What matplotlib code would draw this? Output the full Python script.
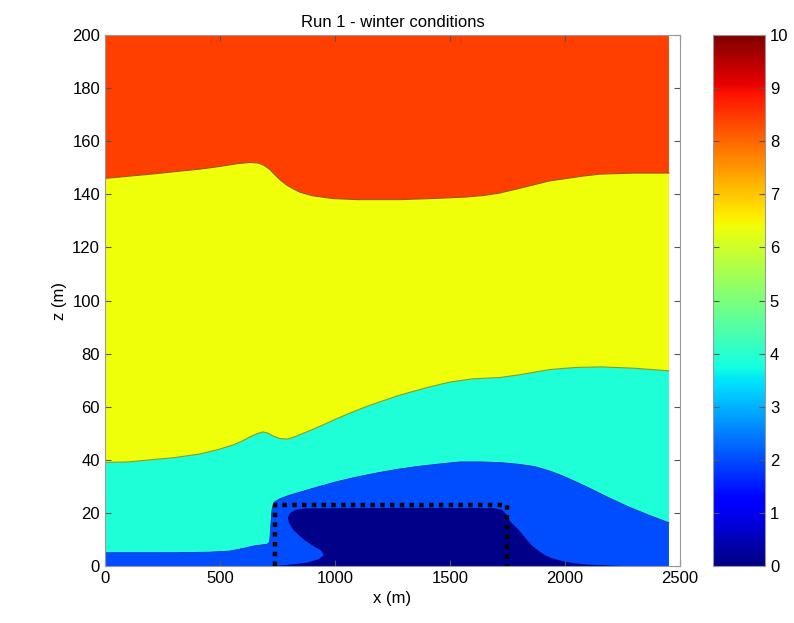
import matplotlib
matplotlib.use("Agg")
import matplotlib.pyplot as plt
import numpy as np
from matplotlib.colors import Normalize
from matplotlib.cm import ScalarMappable

plt.rcParams['font.family'] = ['Liberation Sans', 'DejaVu Sans']

# values of each filled band (colour scale 0-10)
level_dark = 0.1
level_blue = 2.0
level_cyan = 3.9
level_yellow = 6.4
level_red = 8.4

x_end = 2452
z_top = 200

# red / yellow boundary
top_x = [0, 100, 200, 300, 413, 500, 580, 630, 665, 690, 715, 740, 761, 790, 820, 848, 900, 991,
         1100, 1283, 1450, 1574, 1650, 1717, 1790, 1861, 1930, 2009, 2080, 2152, 2300, 2452]
top_z = [146, 146.8, 147.6, 148.5, 149.5, 150.5, 151.6, 152, 151.8, 151, 149.5, 147.3, 145.5, 143.5,
         142, 140.8, 139.5, 138.4, 138, 138, 138.5, 139, 139.6, 140.5, 142, 143.5, 145, 146, 146.9,
         147.6, 148, 148]

# yellow / cyan boundary
mid_x = [0, 100, 200, 300, 413, 490, 557, 600, 630, 660, 687, 710, 730, 760, 796, 840, 891, 950,
         1000, 1065, 1150, 1283, 1400, 1500, 1600, 1717, 1800, 1935, 2050, 2152, 2300, 2452]
mid_z = [39, 39.2, 40, 40.8, 42.2, 43.8, 45.6, 47.2, 48.6, 49.8, 50.5, 50, 49, 48, 47.8, 49.2, 51,
         53.2, 55.2, 57.6, 60.5, 64.4, 67.2, 69.3, 70.5, 71, 72, 74, 74.8, 75, 74.5, 73.5]

# cyan / blue boundary
low_x = [0, 300, 450, 541, 600, 650, 705, 716, 720, 726, 735, 760, 800, 906, 1000, 1088, 1180,
         1270, 1360, 1452, 1543, 1640, 1726, 1800, 1871, 1940, 1999, 2090, 2181, 2270, 2363, 2452]
low_z = [5, 5, 5.2, 5.6, 6.6, 7.6, 8.2, 9, 14, 21, 24, 25.3, 26.6, 29.3, 31.6, 33.4, 35, 36.4,
         37.5, 38.4, 39.2, 39.2, 38.9, 38.3, 37.4, 35.6, 33.6, 30, 26.1, 22.5, 19.2, 16.3]

# dark core outline (closed)
core_x = [740, 815, 880, 930, 951, 940, 906, 870, 840, 815, 800, 795, 805, 830, 869, 1300, 1690,
          1725, 1745, 1760, 1780, 1799, 1818, 1835, 1858, 1881, 1910, 1944, 1990, 2035, 2100,
          2181, 2250, 740]
core_z = [0, 0.6, 1.3, 2.6, 4.1, 5.8, 7.5, 9.6, 11.8, 14, 16.3, 18.3, 20, 21.2, 21.7, 21.9, 21.8,
          21.2, 19.5, 17, 15.2, 13.6, 11.6, 9.8, 7.6, 6, 4.2, 2.9, 1.8, 1.1, 0.5, 0.25, 0, 0]

# dotted box
box_x = [740, 740, 1750, 1750]
box_z = [0, 23, 23, 0]

cmap = plt.get_cmap('jet')
norm = Normalize(0, 10)

fig = plt.figure(figsize=(7.94, 6.23), dpi=100)
ax = fig.add_axes([0.1322, 0.0915, 0.7242, 0.8523])

# band polygons built from the boundaries
ax.fill(top_x + [x_end, 0], top_z + [z_top, z_top], color=cmap(norm(level_red)), lw=0)
ax.fill(top_x + mid_x[::-1], top_z + mid_z[::-1], color=cmap(norm(level_yellow)), lw=0)
ax.fill(mid_x + [x_end, 0], mid_z + [0, 0], color=cmap(norm(level_cyan)), lw=0)
ax.fill(low_x + [x_end, 0], low_z + [0, 0], color=cmap(norm(level_blue)), lw=0)
ax.fill(core_x, core_z, color=cmap(norm(level_dark)), lw=0)

# thin contour outlines
ax.plot(top_x, top_z, color='#a05010', lw=0.8)
ax.plot(mid_x, mid_z, color='#80a020', lw=0.8)
ax.plot(low_x, low_z, color='#1030c0', lw=0.6)
ax.plot(box_x, box_z, color='black', ls=(0, (1, 1.2)), lw=3.2)

ax.set_xlim(0, 2500)
ax.set_ylim(0, 200)
ax.set_xticks([0, 500, 1000, 1500, 2000, 2500])
ax.set_yticks(np.arange(0, 201, 20))
ax.tick_params(direction='in', length=4, top=True, right=True, labelsize=12, color='#555555')
for s in ax.spines.values():
    s.set_color('#999999')
    s.set_linewidth(0.8)
ax.set_title('Run 1 - winter conditions', fontsize=12, pad=6)
ax.set_xlabel('x (m)', fontsize=12)
ax.set_ylabel('z (m)', fontsize=12)

cax = fig.add_axes([0.898, 0.0915, 0.0655, 0.8523])
cb = fig.colorbar(ScalarMappable(norm=norm, cmap=cmap), cax=cax)
cb.set_ticks(range(0, 11))
cb.ax.tick_params(direction='in', length=4, left=True, right=True, labelsize=12, color='#555555')
cb.outline.set_edgecolor('#999999')
cb.outline.set_linewidth(0.8)

fig.savefig('out.png', dpi=100)
